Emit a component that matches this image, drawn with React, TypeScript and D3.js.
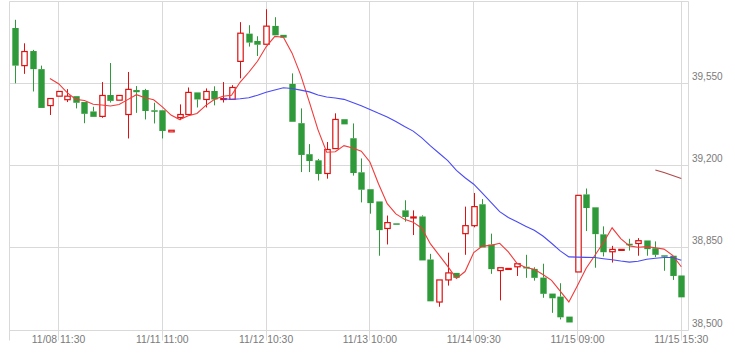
import * as d3 from 'd3'

// 30-min bars
const opens = [
  39785, 39625, 39687, 39610, 39455, 39495, 39480, 39495, 39470, 39430,
  39409, 39500, 39478, 39417, 39521, 39521, 39435, 39435, 39343, 39404,
  39417, 39511, 39481, 39517, 39482, 39482, 39643, 39761, 39730, 39716,
  39794, 39756, 39547, 39380, 39248, 39222, 39166, 39272, 39397, 39316,
  39171, 39099, 39047, 38932, 38954, 39009, 38977, 38983, 38800, 38619,
  38713, 38743, 38910, 38944, 39035, 38864, 38753, 38759, 38769, 38769,
  38760, 38723, 38655, 38642, 38557, 38747, 39077, 39022, 38907, 38833,
  38840, 38867, 38868, 38881, 38848, 38818, 38816, 38732,
]
const highs = [
  39820, 39720, 39692, 39625, 39485, 39515, 39525, 39495, 39470, 39450,
  39555, 39636, 39498, 39598, 39538, 39526, 39467, 39435, 39350, 39460,
  39532, 39511, 39528, 39537, 39555, 39542, 39810, 39797, 39750, 39865,
  39831, 39756, 39592, 39443, 39291, 39228, 39300, 39422, 39397, 39379,
  39230, 39099, 39047, 38987, 38954, 39052, 39009, 38988, 38824, 38713,
  38829, 38743, 39025, 39083, 39057, 38910, 38765, 38762, 38782, 38820,
  38767, 38782, 38655, 38699, 38557, 39073, 39102, 39022, 38941, 38858,
  38843, 38888, 38891, 38881, 38877, 38818, 38816, 38732,
]
const lows = [
  39550, 39590, 39515, 39445, 39415, 39495, 39470, 39443, 39380, 39407,
  39403, 39468, 39478, 39315, 39424, 39396, 39379, 39315, 39343, 39393,
  39417, 39447, 39447, 39456, 39468, 39482, 39571, 39706, 39666, 39716,
  39754, 39744, 39386, 39172, 39172, 39136, 39144, 39272, 39375, 39157,
  39043, 38995, 38816, 38864, 38951, 38961, 38904, 38796, 38622, 38599,
  38689, 38722, 38820, 38937, 38851, 38739, 38626, 38759, 38730, 38722,
  38710, 38637, 38573, 38545, 38532, 38747, 38921, 38765, 38813, 38787,
  38840, 38838, 38816, 38816, 38810, 38752, 38713, 38639,
]
const closes = [
  39625, 39685, 39610, 39445, 39485, 39515, 39495, 39467, 39420, 39407,
  39498, 39475, 39498, 39524, 39512, 39432, 39432, 39347, 39350, 39417,
  39511, 39481, 39515, 39481, 39485, 39532, 39763, 39723, 39714, 39793,
  39754, 39744, 39386, 39245, 39219, 39164, 39268, 39396, 39375, 39168,
  39097, 39040, 38925, 38957, 38951, 38981, 38981, 38796, 38622, 38713,
  38743, 38722, 38944, 39025, 38851, 38759, 38765, 38762, 38782, 38762,
  38722, 38654, 38635, 38554, 38532, 39073, 39019, 38908, 38831, 38843,
  38843, 38864, 38880, 38844, 38820, 38813, 38730, 38639,
]

// x tick labels sit on these bar indices
const tickIdx = [5, 17, 29, 41, 53, 65, 77]
const tickLabels = ['11/08 11:30', '11/11 11:00', '11/12 10:30', '11/13 10:00', '11/14 09:30', '11/15 09:00', '11/15 15:30']
const yTicks = [38500, 38850, 39200, 39550]

const periods = [5, 25, 75]
const maColors = ['#f23a3a', '#4a4af5', '#b04848']

const W = 735
const H = 359
const ML = 9.5
const MR = 688.5
const MT = 1
const MB = 330

const UP = '#dd1111'
const DOWN = '#2f9a39'
const FONT = 'Liberation Sans, Arial, sans-serif'

function movingAvg(n: number): [number, number][] {
  const out: [number, number][] = []
  for (let i = n - 1; i < closes.length; i++) {
    out.push([i, d3.mean(closes.slice(i - n + 1, i + 1)) ?? 0])
  }
  return out
}

export default function App() {
  const x = d3.scaleLinear().domain([0, closes.length - 1]).range([15.3, 681.3])
  const y = d3.scaleLinear().domain([38500, 39900]).range([MB, MT])
  const bw = 6.4
  const crisp = (v: number) => Math.floor(v) + 0.5

  const line = d3.line<[number, number]>()
    .x((d) => x(d[0]))
    .y((d) => y(d[1]))

  return (
    <div style={{ position: 'fixed', left: 0, top: 0 }}>
      <svg width={W} height={H} style={{ display: 'block', background: '#fff' }}>
        {/* horizontal grid */}
        {[...yTicks, 39900].map((t) => (
          <line key={t} x1={ML} x2={MR} y1={crisp(y(t))} y2={crisp(y(t))} stroke="#d9d9d9" strokeWidth={1} />
        ))}
        {/* vertical grid */}
        {tickIdx.map((i) => (
          <line key={i} x1={crisp(x(i))} x2={crisp(x(i))} y1={crisp(y(39900))} y2={crisp(y(38500)) + 10} stroke="#d9d9d9" strokeWidth={1} />
        ))}
        {/* frame sides */}
        <line x1={ML} x2={ML} y1={crisp(y(39900))} y2={crisp(y(38500)) + 10} stroke="#d9d9d9" />
        <line x1={MR} x2={MR} y1={crisp(y(39900))} y2={crisp(y(38500))} stroke="#d9d9d9" />

        {/* y labels */}
        {yTicks.map((t) => (
          <text key={t} x={MR + 3.5} y={crisp(y(t)) - 3.5} fontSize={10} fill="#7a7a7a" fontFamily={FONT}>
            {d3.format(',')(t)}
          </text>
        ))}
        {/* x labels */}
        {tickIdx.map((i, k) => (
          <text key={i} x={x(i)} y={343} fontSize={10.4} fill="#7a7a7a" fontFamily={FONT} textAnchor="middle">
            {tickLabels[k]}
          </text>
        ))}

        {/* candles */}
        {closes.map((c, i) => {
          const o = opens[i]
          const up = c >= o
          const cx = Math.round(x(i)) + 0.5
          const top = y(Math.max(o, c))
          const bot = y(Math.min(o, c))
          const color = up ? UP : DOWN
          return (
            <g key={i}>
              <line x1={cx} x2={cx} y1={y(highs[i])} y2={top} stroke={color} strokeWidth={1} />
              <line x1={cx} x2={cx} y1={bot} y2={y(lows[i])} stroke={color} strokeWidth={1} />
              {up ? (
                <rect x={cx - bw / 2 + 0.5} y={top} width={bw - 1} height={Math.max(1, bot - top)} fill="#fff" stroke={color} strokeWidth={1.2} />
              ) : (
                <rect x={cx - bw / 2} y={top} width={bw} height={Math.max(1.5, bot - top)} fill={color} />
              )}
            </g>
          )
        })}

        {/* moving averages */}
        {periods.map((n, k) => (
          <path key={n} d={line(movingAvg(n)) ?? ''} fill="none" stroke={maColors[k]} strokeWidth={1.1} />
        ))}
      </svg>
    </div>
  )
}
